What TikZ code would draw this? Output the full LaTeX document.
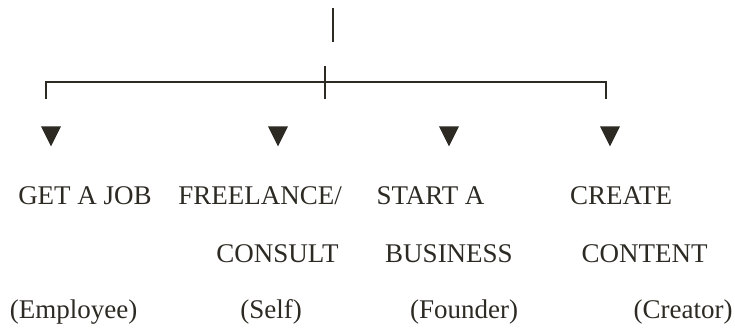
\documentclass[tikz,border=0pt]{standalone}
\usepackage{fontspec}
\setmainfont{Liberation Serif}
\usetikzlibrary{positioning,shapes.geometric}
\definecolor{ink}{RGB}{45,42,36}

\begin{document}
\begin{tikzpicture}[x=1pt, y=-1pt, line width=2pt, color=ink,
	arrowhead/.style={isosceles triangle, isosceles triangle stretches, shape border rotate=-90,
		fill=ink, inner sep=0pt, minimum width=20pt, minimum height=20pt, anchor=apex},
	lbl/.style={anchor=base, inner sep=0pt, text=ink, font=\fontsize{27}{32}\selectfont}]
\useasboundingbox (0,0) rectangle (735,327);
\coordinate (c_{top1})		at (333,8);
\coordinate (c_{top2})		at (333,42);
\coordinate (c_{mid1})		at (325,66);
\coordinate (c_{mid2})		at (325,99);
\coordinate (c_{left})		at (46,99);
\coordinate (c_{right})		at (606,99);
\draw (c_{top1}) -- (c_{top2});
\draw (c_{mid1}) -- (c_{mid2});
\draw (c_{left}) -- ++(0,-17) -| (c_{right});
\node[arrowhead]	(a_{job})		at (51,149)		{};
\node[arrowhead]	(a_{free})		at (278,149)	{};
\node[arrowhead]	(a_{start})		at (449,149)	{};
\node[arrowhead]	(a_{create})	at (610,149)	{};
\node[lbl]	(l_{job})		at (85,204)		{GET A JOB};
\node[lbl]	(l_{free})		at (260,204)	{FREELANCE/};
\node[lbl]	(l_{consult})	at (277.5,262)	{CONSULT};
\node[lbl]	(l_{start})		at (430.5,204)	{START A};
\node[lbl]	(l_{business})	at (449,262)	{BUSINESS};
\node[lbl]	(l_{create})	at (621,204)	{CREATE};
\node[lbl]	(l_{content})	at (644.5,262)	{CONTENT};
\node[lbl]	(r_{employee})	at (73.5,318)	{(Employee)};
\node[lbl]	(r_{self})		at (271,318)	{(Self)};
\node[lbl]	(r_{founder})	at (464,318)	{(Founder)};
\node[lbl]	(r_{creator})	at (683,318)	{(Creator)};
\end{tikzpicture}
\end{document}
